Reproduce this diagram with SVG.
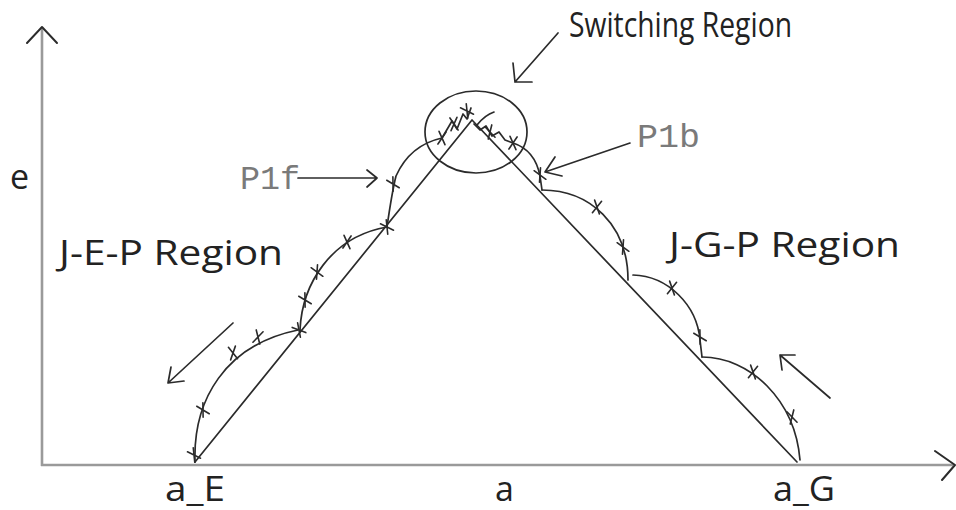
<svg xmlns="http://www.w3.org/2000/svg" width="956" height="510" viewBox="0 0 956 510">
<defs>
<style>
.ln{fill:none;stroke:#2b2b2b;stroke-width:1.7;stroke-linecap:round;stroke-linejoin:round}
.ax{fill:none;stroke:#9a9a9a;stroke-width:2.6}
.ah{fill:none;stroke:#2b2b2b;stroke-width:2;stroke-linecap:round;stroke-linejoin:round}
.lbl{font-family:"Open Sans","Liberation Sans",sans-serif;font-size:34px;fill:#222}
.mono{font-family:"Liberation Mono","Courier New",monospace;font-size:34px;fill:#7a7a7a}
.cx{fill:none;stroke:#2b2b2b;stroke-width:1.6;stroke-linecap:round}
</style>
<path id="x" d="M-7,-2 L7,2 M-2,-7 L2,7"/>
</defs>
<rect width="956" height="510" fill="#fff"/>
<g id="axes">
<line class="ax" x1="42" y1="29" x2="42" y2="466"/>
<line class="ax" x1="41" y1="465" x2="953" y2="465"/>
<path class="ah" d="M27,43 L42,27 L57,43"/>
<path class="ah" d="M935,451 L955,465 L942,480"/>
</g>
<g id="triangle">
<path class="ln" d="M195,462 L472,120 L797,462"/>
</g>
<g id="switching-circle">
<ellipse class="ln" cx="476" cy="132" rx="51" ry="41"/>
</g>
<g id="jep-curve">
<path class="ln" d="M195,462 C193,400 225,345 298,330"/>
<path class="ln" d="M300,330 C302,285 330,237 387,227"/>
<path class="ln" d="M387,227 Q392,192 396,176 Q410,145 442,138"/>
<path class="ln" d="M442,138 L452,121 L457,129 L463,114 L467,119 L471,108"/>
<g class="cx">
<use href="#x" transform="translate(194,455) rotate(10)"/>
<use href="#x" transform="translate(203,410) rotate(15)"/>
<use href="#x" transform="translate(233,353) rotate(35)"/>
<use href="#x" transform="translate(258,337) rotate(60)"/>
<use href="#x" transform="translate(299,330) rotate(5)"/>
<use href="#x" transform="translate(305,300) rotate(15)"/>
<use href="#x" transform="translate(317,272) rotate(20)"/>
<use href="#x" transform="translate(347,242) rotate(50)"/>
<use href="#x" transform="translate(387,227) rotate(10)"/>
<use href="#x" transform="translate(393,184) rotate(15)"/>
<use href="#x" transform="translate(442,138) rotate(50)"/>
<use href="#x" transform="translate(454,124) rotate(40)"/>
<use href="#x" transform="translate(467,111) rotate(10)"/>
</g>
</g>
<g id="jgp-curve">
<path class="ln" d="M477,125 Q485,115 494,112"/>
<path class="ln" d="M474,124 L480,130 L486,126 L492,136 L499,132 L505,140 L513,143"/>
<path class="ln" d="M513,143 Q535,150 540,176 L542,190"/>
<path class="ln" d="M542,190 C590,190 628,225 628,280"/>
<path class="ln" d="M633,275 C668,276 697,305 700,340 L702,357"/>
<path class="ln" d="M702,357 C750,357 795,400 800,460"/>
<g class="cx">
<use href="#x" transform="translate(490,132) rotate(30)"/>
<use href="#x" transform="translate(513,143) rotate(50)"/>
<use href="#x" transform="translate(540,175) rotate(20)"/>
<use href="#x" transform="translate(597,207) rotate(55)"/>
<use href="#x" transform="translate(623,247) rotate(20)"/>
<use href="#x" transform="translate(672,288) rotate(55)"/>
<use href="#x" transform="translate(700,337) rotate(15)"/>
<use href="#x" transform="translate(753,372) rotate(55)"/>
<use href="#x" transform="translate(792,417) rotate(30)"/>
</g>
</g>
<g id="connectors">
<path class="ln" d="M558,33 L515,82 M513,63 L515,82 L532,82"/>
<path class="ln" d="M298,178 L377,178 M367,170 L377,178 L367,187"/>
<path class="ln" d="M630,143 L545,172 M555,157 L545,172 L562,176"/>
<path class="ln" d="M233,323 L168,383 M171,367 L168,383 L184,381"/>
<path class="ln" d="M830,398 L780,355 M795,355 L780,355 L782,370"/>
</g>
<g id="label-switching"><text class="lbl" x="569" y="37" textLength="223" lengthAdjust="spacingAndGlyphs">Switching Region</text></g>
<g id="label-e"><text class="lbl" x="10" y="189">e</text></g>
<g id="label-p1f"><text class="mono" x="240" y="189" textLength="60" lengthAdjust="spacingAndGlyphs">P1f</text></g>
<g id="label-p1b"><text class="mono" x="637" y="147" textLength="63" lengthAdjust="spacingAndGlyphs">P1b</text></g>
<g id="label-jep"><text class="lbl" x="59" y="265" textLength="224" lengthAdjust="spacingAndGlyphs">J-E-P Region</text></g>
<g id="label-jgp"><text class="lbl" x="669" y="257" textLength="231" lengthAdjust="spacingAndGlyphs">J-G-P Region</text></g>
<g id="label-aE"><text class="lbl" x="165" y="501" font-size="32" textLength="60" lengthAdjust="spacingAndGlyphs">a_E</text></g>
<g id="label-a"><text class="lbl" x="495" y="501" font-size="32">a</text></g>
<g id="label-aG"><text class="lbl" x="773" y="501" font-size="32" textLength="62" lengthAdjust="spacingAndGlyphs">a_G</text></g>
</svg>
